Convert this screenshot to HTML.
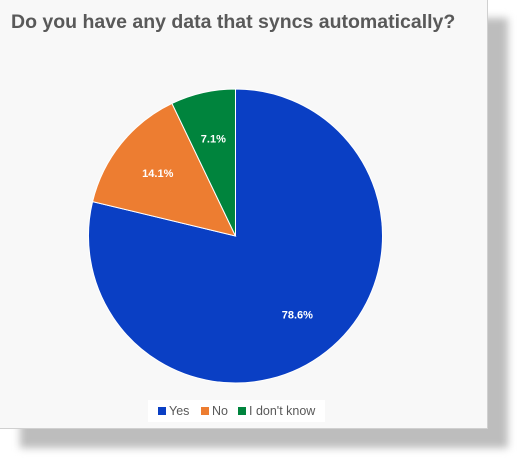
<!DOCTYPE html>
<html><head><meta charset="utf-8"><style>
body{margin:0;width:519px;height:460px;background:#fff;overflow:hidden;font-family:"Liberation Sans",sans-serif}
#shadow{position:absolute;left:20px;top:18px;width:488px;height:430px;background:#bdbdbd;filter:blur(4px)}
#box{position:absolute;left:0;top:0;width:487px;height:428px;background:#f8f8f8;border-right:1px solid #d0d0d0;border-bottom:1px solid #d0d0d0}
#title{position:absolute;left:11px;top:11px;font-size:19.5px;font-weight:bold;color:#595959;white-space:nowrap}
#legend{position:absolute;left:148px;top:400px;width:177px;height:22px;background:#fff}
.li{position:absolute;top:4px;font-size:12.5px;color:#595959;white-space:nowrap}
.sq{display:inline-block;width:8px;height:8px;margin-right:3px}
</style></head><body>
<div id="shadow"></div>
<div id="box">
<div id="title">Do you have any data that syncs automatically?</div>
<svg id="pie" width="488" height="429" style="position:absolute;left:0;top:0"></svg>
<div id="legend">
<span class="li" style="left:10px"><span class="sq" style="background:#0a3fc4"></span>Yes</span>
<span class="li" style="left:53px"><span class="sq" style="background:#ed7d31"></span>No</span>
<span class="li" style="left:90px"><span class="sq" style="background:#00843d"></span>I don't know</span>
</div>
</div>
<script>
const categories=["Yes","No","I don't know"];
const values=[78.6,14.1,7.1];
const labels=["78.6%","14.1%","7.1%"];
const colors=["#0a3fc4","#ed7d31","#00843d"];
const svg=document.getElementById('pie');
const NS="http://www.w3.org/2000/svg";
const cx=235.5,cy=236,r=147;
const total=values.reduce((a,b)=>a+b,0);
let a0=0;
values.forEach((v,i)=>{
  const a1=a0+v/total*2*Math.PI;
  const p=a=>[cx+r*Math.sin(a),cy-r*Math.cos(a)];
  const [x0,y0]=p(a0),[x1,y1]=p(a1);
  const path=document.createElementNS(NS,'path');
  path.setAttribute('d',`M${cx},${cy}L${x0},${y0}A${r},${r} 0 ${a1-a0>Math.PI?1:0} 1 ${x1},${y1}Z`);
  path.setAttribute('fill',colors[i]);path.setAttribute('stroke','#fff');path.setAttribute('stroke-width','1');
  
  
  svg.appendChild(path);
  const am=(a0+a1)/2,lr=r*0.68;
  const t=document.createElementNS(NS,'text');
  t.setAttribute('x',cx+lr*Math.sin(am));t.setAttribute('y',cy-lr*Math.cos(am)+4);
  t.setAttribute('text-anchor','middle');t.setAttribute('fill','#fff');t.setAttribute('font-size','11');t.setAttribute('font-weight','bold');
  t.setAttribute('font-family','Liberation Sans, sans-serif');
  t.textContent=labels[i];
  
  
  svg.appendChild(t);
  a0=a1;
});
</script>
</body></html>
